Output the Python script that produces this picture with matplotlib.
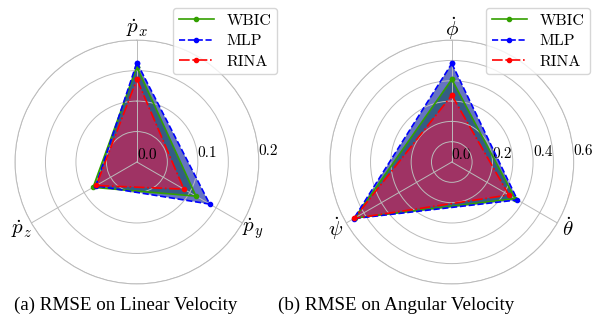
import numpy as np
import matplotlib
matplotlib.use("Agg")
import matplotlib.pyplot as plt

plt.rcParams['font.family'] = ['cmr10', 'DejaVu Serif']
plt.rcParams['mathtext.fontset'] = 'cm'
plt.rcParams['axes.formatter.use_mathtext'] = True

methods = ['WBIC', 'MLP', 'RINA']

lin_labels = [r'$\dot{p}_x$', r'$\dot{p}_y$', r'$\dot{p}_z$']
lin_wbic = [0.156, 0.112, 0.083]
lin_mlp = [0.163, 0.138, 0.078]
lin_rina = [0.136, 0.089, 0.077]
lin_ticks = [0.0, 0.05, 0.1, 0.15, 0.2]
lin_ticklabels = ['0.0', '', '0.1', '', '0.2']

ang_labels = [r'$\dot{\phi}$', r'$\dot{\theta}$', r'$\dot{\psi}$']
ang_wbic = [0.407, 0.360, 0.552]
ang_mlp = [0.485, 0.373, 0.557]
ang_rina = [0.329, 0.324, 0.555]
ang_ticks = [0.0, 0.1, 0.2, 0.3, 0.4, 0.5, 0.6]
ang_ticklabels = ['0.0', '', '0.2', '', '0.4', '', '0.6']

captions = ['(a) RMSE on Linear Velocity', '(b) RMSE on Angular Velocity']

line_colors = ['#33a000', 'blue', 'red']
fill_colors = ['#33a000', '#00189a', '#e8174e']
styles = ['-', '--', '-.']


def radar(ax, labels, series, ticks, ticklabels, legend_anchor):
    n = len(labels)
    angles = np.linspace(0, 2 * np.pi, n, endpoint=False).tolist()
    angles += angles[:1]
    ax.set_theta_offset(np.pi / 2)
    ax.set_theta_direction(-1)
    for name, vals, lc, fc, ls in zip(methods, series, line_colors, fill_colors, styles):
        v = list(vals) + vals[:1]
        ax.plot(angles, v, color=lc, linestyle=ls, linewidth=1.2,
                marker='o', markersize=3, label=name)
        ax.fill(angles, v, color=fc, alpha=0.6, linewidth=0)
    ax.set_xticks(angles[:-1])
    ax.set_xticklabels(labels, fontsize=15)
    ax.set_yticks(ticks)
    ax.set_yticklabels(ticklabels, fontsize=11)
    ax.set_ylim(0, ticks[-1])
    ax.set_rlabel_position(88)
    ax.grid(color='#bbbbbb', linewidth=0.7)
    ax.spines['polar'].set_color('#bbbbbb')
    ax.spines['polar'].set_linewidth(0.7)
    ax.tick_params(axis='x', pad=-2)
    ax.legend(loc='upper right', bbox_to_anchor=legend_anchor,
              bbox_transform=fig.transFigure, fontsize=11.5,
              handlelength=2.2, borderpad=0.35, labelspacing=0.4,
              handletextpad=0.8, borderaxespad=0,
              fancybox=True, framealpha=0.8)


fig = plt.figure(figsize=(6.02, 3.27), dpi=100)
ax1 = fig.add_axes([0.0249, 0.1315, 0.405, 0.746], polar=True)
ax2 = fig.add_axes([0.548, 0.1315, 0.405, 0.746], polar=True)

radar(ax1, lin_labels, [lin_wbic, lin_mlp, lin_rina], lin_ticks, lin_ticklabels,
      (277 / 602, 1 - 8 / 327))
radar(ax2, ang_labels, [ang_wbic, ang_mlp, ang_rina], ang_ticks, ang_ticklabels,
      (590 / 602, 1 - 8 / 327))

fig.text(126 / 602, 1 - 305 / 327, captions[0], ha='center', va='center',
         fontsize=13.7, family='Liberation Serif')
fig.text(396 / 602, 1 - 305 / 327, captions[1], ha='center', va='center',
         fontsize=13.7, family='Liberation Serif')

fig.savefig('out.png', dpi=100)
